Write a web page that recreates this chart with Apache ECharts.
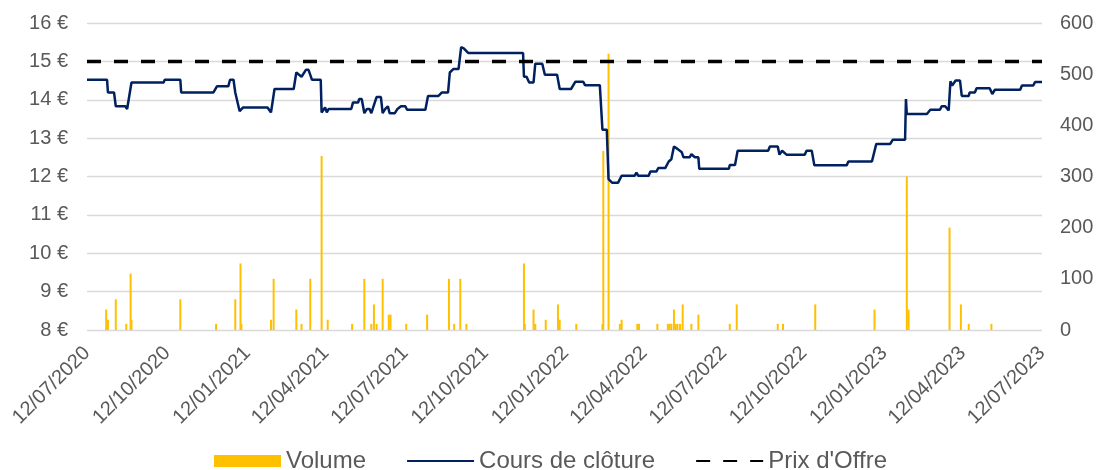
<!DOCTYPE html>
<html>
<head>
<meta charset="utf-8">
<script src="https://cdn.jsdelivr.net/npm/echarts@6/dist/echarts.min.js"></script>
<style>
  html, body { margin: 0; padding: 0; background: #fff; }
  #chart { width: 1097px; height: 470px; }
</style>
</head>
<body>
<div id="chart"></div>
<script>
// axis range / labels
const startDate = '2020-07-12'
const endDate = '2023-07-12'
const tickDates = ['2020-07-12', '2020-10-12', '2021-01-12', '2021-04-12', '2021-07-12', '2021-10-12', '2022-01-12',
  '2022-04-12', '2022-07-12', '2022-10-12', '2023-01-12', '2023-04-12', '2023-07-12']
const offerPrice = 15

// Cours de clôture (points where the line changes)
const closeDates = [
  '2020-07-12', '2020-08-04', '2020-08-05', '2020-08-12', '2020-08-14', '2020-08-25', '2020-08-27', '2020-09-01', '2020-10-08', '2020-10-09',
  '2020-10-27', '2020-10-28', '2020-12-04', '2020-12-08', '2020-12-21', '2020-12-23', '2020-12-27', '2020-12-29', '2020-12-31', '2021-01-03',
  '2021-01-07', '2021-02-04', '2021-02-08', '2021-02-12', '2021-03-06', '2021-03-09', '2021-03-15', '2021-03-20', '2021-03-23', '2021-03-27',
  '2021-03-29', '2021-04-01', '2021-04-06', '2021-04-07', '2021-04-11', '2021-04-13', '2021-04-15', '2021-05-11', '2021-05-13', '2021-05-19',
  '2021-05-20', '2021-05-23', '2021-05-26', '2021-05-29', '2021-06-01', '2021-06-03', '2021-06-09', '2021-06-14', '2021-06-16', '2021-06-19',
  '2021-06-22', '2021-06-24', '2021-06-30', '2021-07-03', '2021-07-07', '2021-07-12', '2021-07-14', '2021-08-04', '2021-08-07', '2021-08-19',
  '2021-08-23', '2021-08-30', '2021-09-01', '2021-09-05', '2021-09-11', '2021-09-14', '2021-09-17', '2021-09-22', '2021-11-24', '2021-11-25',
  '2021-11-28', '2021-12-01', '2021-12-06', '2021-12-08', '2021-12-16', '2021-12-19', '2022-01-02', '2022-01-05', '2022-01-18', '2022-01-23',
  '2022-02-01', '2022-02-03', '2022-02-20', '2022-02-23', '2022-02-28', '2022-03-02', '2022-03-06', '2022-03-13', '2022-03-17', '2022-04-01',
  '2022-04-03', '2022-04-05', '2022-04-17', '2022-04-19', '2022-04-26', '2022-04-28', '2022-05-06', '2022-05-10', '2022-05-13', '2022-05-16',
  '2022-05-20', '2022-05-25', '2022-05-27', '2022-06-03', '2022-06-05', '2022-06-09', '2022-06-13', '2022-06-14', '2022-07-18', '2022-07-19',
  '2022-07-25', '2022-07-28', '2022-09-01', '2022-09-03', '2022-09-12', '2022-09-14', '2022-09-17', '2022-09-22', '2022-10-13', '2022-10-15',
  '2022-10-21', '2022-10-24', '2022-11-30', '2022-12-02', '2022-12-29', '2023-01-03', '2023-01-19', '2023-01-22', '2023-02-05', '2023-02-06',
  '2023-02-07', '2023-03-02', '2023-03-06', '2023-03-17', '2023-03-19', '2023-03-23', '2023-03-27', '2023-03-29', '2023-03-31', '2023-04-04',
  '2023-04-09', '2023-04-11', '2023-04-19', '2023-04-20', '2023-04-26', '2023-04-28', '2023-05-13', '2023-05-16', '2023-05-19', '2023-06-17',
  '2023-06-19', '2023-07-02', '2023-07-04', '2023-07-12'
]
const closeValues = [
  14.52, 14.52, 14.19, 14.19, 13.83, 13.83, 13.76, 14.45, 14.45, 14.52,
  14.52, 14.19, 14.19, 14.35, 14.35, 14.52, 14.52, 14.19, 14.19, 13.70,
  13.80, 13.80, 13.67, 14.28, 14.28, 14.71, 14.60, 14.78, 14.78, 14.52,
  14.48, 14.52, 14.52, 13.67, 13.80, 13.67, 13.76, 13.76, 13.93, 13.93,
  14.02, 14.02, 13.65, 13.76, 13.76, 13.65, 14.07, 14.07, 13.65, 13.76,
  13.83, 13.65, 13.65, 13.76, 13.83, 13.83, 13.74, 13.74, 14.10, 14.10,
  14.19, 14.19, 14.71, 14.80, 14.80, 15.37, 15.34, 15.22, 15.22, 14.60,
  14.60, 14.45, 14.45, 14.94, 14.94, 14.65, 14.65, 14.28, 14.28, 14.47,
  14.47, 14.38, 14.38, 13.22, 13.22, 11.93, 11.84, 11.84, 12.02, 12.02,
  12.10, 12.02, 12.02, 12.13, 12.13, 12.22, 12.22, 12.39, 12.45, 12.78,
  12.72, 12.63, 12.50, 12.50, 12.58, 12.50, 12.50, 12.20, 12.20, 12.30,
  12.30, 12.67, 12.67, 12.78, 12.78, 12.57, 12.67, 12.57, 12.57, 12.67,
  12.67, 12.29, 12.29, 12.39, 12.39, 12.85, 12.85, 12.96, 12.96, 14.02,
  13.63, 13.63, 13.74, 13.74, 13.83, 13.83, 13.72, 14.48, 14.37, 14.50,
  14.50, 14.10, 14.10, 14.19, 14.19, 14.30, 14.30, 14.15, 14.26, 14.26,
  14.37, 14.37, 14.46, 14.46
]

// Volume (only days with trades)
const volDates = [
  '2020-08-03', '2020-08-05', '2020-08-14', '2020-08-26', '2020-08-31', '2020-09-01', '2020-10-27', '2020-12-07', '2020-12-29', '2021-01-04',
  '2021-01-05', '2021-02-08', '2021-02-11', '2021-03-09', '2021-03-15', '2021-03-25', '2021-04-07', '2021-04-14', '2021-05-12', '2021-05-26',
  '2021-06-03', '2021-06-06', '2021-06-09', '2021-06-16', '2021-06-23', '2021-06-25', '2021-07-13', '2021-08-06', '2021-08-31', '2021-09-06',
  '2021-09-13', '2021-09-20', '2021-11-25', '2021-11-26', '2021-12-06', '2021-12-08', '2021-12-20', '2022-01-03', '2022-01-05', '2022-01-24',
  '2022-02-23', '2022-02-24', '2022-03-02', '2022-03-15', '2022-03-17', '2022-04-04', '2022-04-06', '2022-04-27', '2022-05-09', '2022-05-11',
  '2022-05-13', '2022-05-16', '2022-05-18', '2022-05-20', '2022-05-23', '2022-05-26', '2022-06-05', '2022-06-13', '2022-07-19', '2022-07-27',
  '2022-09-12', '2022-09-18', '2022-10-25', '2023-01-01', '2023-02-07', '2023-02-09', '2023-03-28', '2023-04-10', '2023-04-19', '2023-05-15'
]
const volValues = [
  40, 20, 60, 12, 110, 20, 60, 12, 60, 130,
  12, 20, 100, 40, 12, 100, 340, 20, 12, 100,
  12, 50, 12, 100, 30, 30, 12, 30, 100, 12,
  100, 12, 130, 12, 40, 12, 20, 50, 20, 12,
  12, 350, 540, 12, 20, 12, 12, 12, 12, 12,
  12, 40, 12, 12, 12, 50, 12, 30, 12, 50,
  12, 12, 50, 40, 300, 40, 200, 50, 12, 12
]

const FONT = '"Liberation Sans", Arial, sans-serif'
const GREY = '#595959'

function toTime(s) {
  const [y, m, d] = s.split('-').map(Number)
  return new Date(y, m - 1, d).getTime()
}
const pad = (n) => (n < 10 ? '0' + n : '' + n)

const chart = echarts.init(document.getElementById('chart'), null, { renderer: 'canvas' })

chart.setOption({
  animation: false,
  textStyle: { fontFamily: FONT },
  grid: { left: 87, right: 55, top: 23, bottom: 140, containLabel: false },
  legend: {
    top: 444,
    left: 209,
    itemWidth: 67,
    itemHeight: 12,
    itemGap: 40,
    textStyle: { fontFamily: FONT, fontSize: 24, color: GREY },
    data: [
      { name: 'Volume', icon: 'rect' },
      { name: 'Cours de clôture', itemStyle: { opacity: 0 } },
      { name: "Prix d'Offre", itemStyle: { opacity: 0 } },
    ],
  },
  // dates as timestamps on a value axis, labels only on the quarter dates
  xAxis: {
    type: 'value',
    min: toTime(startDate),
    max: toTime(endDate),
    axisLine: { show: false },
    axisTick: { show: false },
    splitLine: { show: false },
    axisLabel: {
      customValues: tickDates.map(toTime),
      rotate: 45,
      margin: 20,
      hideOverlap: false,
      color: GREY,
      fontSize: 20,
      fontFamily: FONT,
      formatter: (v) => {
        const d = new Date(v)
        return pad(d.getDate()) + '/' + pad(d.getMonth() + 1) + '/' + d.getFullYear()
      },
    },
  },
  yAxis: [
    {
      type: 'value',
      min: 8,
      max: 16,
      interval: 1,
      axisLine: { show: false },
      axisTick: { show: false },
      splitLine: { lineStyle: { color: '#d9d9d9', width: 1.3 } },
      axisLabel: { formatter: '{value} €', color: GREY, fontSize: 20, margin: 19, fontFamily: FONT },
    },
    {
      type: 'value',
      min: 0,
      max: 600,
      interval: 100,
      axisLine: { show: false },
      axisTick: { show: false },
      splitLine: { show: false },
      axisLabel: { color: GREY, fontSize: 20, margin: 18, fontFamily: FONT },
    },
  ],
  series: [
    {
      name: 'Volume',
      type: 'bar',
      yAxisIndex: 1,
      barWidth: 2,
      itemStyle: { color: '#FFC000' },
      data: volDates.map((d, i) => [toTime(d), volValues[i]]),
    },
    {
      name: 'Cours de clôture',
      type: 'line',
      yAxisIndex: 0,
      symbol: 'none',
      showSymbol: false,
      lineStyle: { color: '#002060', width: 2.5 },
      itemStyle: { color: '#002060' },
      data: closeDates.map((d, i) => [toTime(d), closeValues[i]]),
    },
    {
      name: "Prix d'Offre",
      type: 'line',
      yAxisIndex: 0,
      symbol: 'none',
      showSymbol: false,
      lineStyle: { color: '#000000', width: 3.5, type: [14, 13], cap: 'butt' },
      itemStyle: { color: '#000000' },
      data: [[toTime(startDate), offerPrice], [toTime(endDate), offerPrice]],
    },
  ],
})
</script>
</body>
</html>
